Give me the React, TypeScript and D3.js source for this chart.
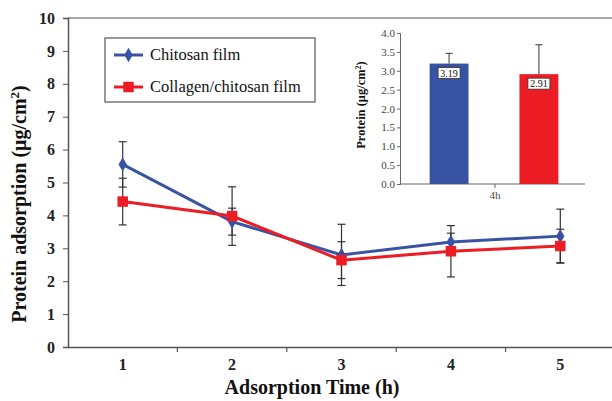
import React, { useEffect, useRef } from "react";
import * as d3 from "d3";

const times = ["1", "2", "3", "4", "5"];
const chitosan = [5.55, 3.81, 2.8, 3.19, 3.37];
const chitosanErr = [0.69, 0.41, 0.93, 0.27, 0.82];
const collagen = [4.42, 3.98, 2.64, 2.91, 3.07];
const collagenErr = [0.71, 0.89, 0.56, 0.78, 0.51];
const yTicks = [0, 1, 2, 3, 4, 5, 6, 7, 8, 9, 10];

const insetNames = ["Chitosan film", "Collagen/chitosan film"];
const insetValues = [3.19, 2.91];
const insetErr = [0.27, 0.78];
const insetTicks = [0, 0.5, 1, 1.5, 2, 2.5, 3, 3.5, 4];

const BLUE = "#3953a4";
const RED = "#ec1c24";
const FONT = "Liberation Serif, Times New Roman, serif";

function App() {
  const svgRef = useRef(null);

  useEffect(() => {
    const svg = d3.select(svgRef.current);
    svg.selectAll("*").remove();

    const left = 68;
    const top = 18;
    const bottom = 347;

    const x = d3.scaleBand().domain(times).range([left, 615]);
    const y = d3.scaleLinear().domain([0, 10]).range([bottom, top]);
    const cx = (d) => x(d) + x.bandwidth() / 2;

    // top border line
    svg.append("line")
      .attr("x1", left).attr("x2", 612)
      .attr("y1", top).attr("y2", top)
      .attr("stroke", "#555").attr("stroke-width", 1.2);

    // y axis
    const yAxis = svg.append("g")
      .attr("transform", `translate(${left},0)`)
      .call(d3.axisLeft(y).tickValues(yTicks).tickSize(5).tickPadding(8));
    yAxis.attr("font-family", FONT);
    yAxis.select(".domain").attr("stroke", "#555").attr("stroke-width", 1.5);
    yAxis.selectAll("line").attr("stroke", "#555");
    yAxis.selectAll("text")
      .attr("font-family", FONT).attr("font-size", 16).attr("font-weight", "bold")
      .attr("fill", "#222");

    // x axis
    const xAxis = svg.append("g")
      .attr("transform", `translate(0,${bottom})`)
      .call(d3.axisBottom(x).tickSize(0).tickPadding(12));
    xAxis.attr("font-family", FONT);
    xAxis.select(".domain").attr("stroke", "#555").attr("stroke-width", 1.5);
    xAxis.selectAll("text")
      .attr("font-family", FONT).attr("font-size", 16).attr("font-weight", "bold")
      .attr("fill", "#222");
    // category separators
    svg.append("g").selectAll("line")
      .data(times.slice(1))
      .enter().append("line")
      .attr("x1", (d) => x(d)).attr("x2", (d) => x(d))
      .attr("y1", bottom).attr("y2", bottom + 5)
      .attr("stroke", "#555").attr("stroke-width", 1.2);

    // axis titles
    svg.append("text")
      .attr("x", 312).attr("y", 394)
      .attr("text-anchor", "middle").attr("font-family", FONT)
      .attr("font-size", 20).attr("font-weight", "bold").attr("fill", "#111")
      .text("Adsorption Time (h)");

    const yt = svg.append("text")
      .attr("transform", "translate(26,204) rotate(-90)")
      .attr("text-anchor", "middle").attr("font-family", FONT)
      .attr("font-size", 20).attr("font-weight", "bold").attr("fill", "#111");
    yt.append("tspan").text("Protein adsorption (μg/cm");
    yt.append("tspan").attr("dy", -7).attr("font-size", 13).text("2");
    yt.append("tspan").attr("dy", 7).text(")");

    // error bars
    const series = [
      { vals: chitosan, errs: chitosanErr, color: BLUE, shape: d3.symbolDiamond, size: 60 },
      { vals: collagen, errs: collagenErr, color: RED, shape: d3.symbolSquare, size: 110 },
    ];
    series.forEach((s) => {
      const g = svg.append("g");
      times.forEach((t, i) => {
        const hi = s.vals[i] + s.errs[i];
        const lo = s.vals[i] - s.errs[i];
        g.append("line")
          .attr("x1", cx(t)).attr("x2", cx(t))
          .attr("y1", y(hi)).attr("y2", y(lo))
          .attr("stroke", "#333").attr("stroke-width", 1.2);
        [hi, lo].forEach((v) => {
          g.append("line")
            .attr("x1", cx(t) - 4).attr("x2", cx(t) + 4)
            .attr("y1", y(v)).attr("y2", y(v))
            .attr("stroke", "#333").attr("stroke-width", 1.2);
        });
      });
    });

    // lines and markers
    series.forEach((s) => {
      const line = d3.line()
        .x((d, i) => cx(times[i]))
        .y((d) => y(d));
      svg.append("path")
        .datum(s.vals)
        .attr("d", line)
        .attr("fill", "none")
        .attr("stroke", s.color)
        .attr("stroke-width", 3);
      svg.append("g").selectAll("path")
        .data(s.vals)
        .enter().append("path")
        .attr("transform", (d, i) => `translate(${cx(times[i])},${y(d)})`)
        .attr("d", d3.symbol().type(s.shape).size(s.size))
        .attr("fill", s.color);
    });

    // legend
    const lg = svg.append("g");
    lg.append("rect")
      .attr("x", 105).attr("y", 38).attr("width", 210).attr("height", 64)
      .attr("fill", "white").attr("stroke", "#555").attr("stroke-width", 1.2);
    series.forEach((s, i) => {
      const ly = 55 + i * 32;
      lg.append("line")
        .attr("x1", 114).attr("x2", 143).attr("y1", ly).attr("y2", ly)
        .attr("stroke", s.color).attr("stroke-width", 3);
      lg.append("path")
        .attr("transform", `translate(128.5,${ly})`)
        .attr("d", d3.symbol().type(s.shape).size(s.size))
        .attr("fill", s.color);
      lg.append("text")
        .attr("x", 150).attr("y", ly + 5)
        .attr("font-family", FONT)
        .attr("font-size", 16.5).attr("fill", "#111")
        .text(insetNames[i]);
    });

    // inset bar chart
    const ix = d3.scaleBand().domain(insetNames).range([400, 588]).paddingInner(0.567).paddingOuter(0.33);
    const iy = d3.scaleLinear().domain([0, 4]).range([184, 33]);
    const colors = [BLUE, RED];

    const iyAxis = svg.append("g")
      .attr("transform", "translate(400,0)")
      .call(d3.axisLeft(iy).tickValues(insetTicks).tickFormat(d3.format(".1f")).tickSize(3).tickPadding(2));
    iyAxis.attr("font-family", FONT);
    iyAxis.select(".domain").attr("stroke", "#666");
    iyAxis.selectAll("line").attr("stroke", "#666");
    iyAxis.selectAll("text")
      .attr("font-family", FONT).attr("font-size", 11).attr("fill", "#444");

    svg.append("line")
      .attr("x1", 400).attr("x2", 585).attr("y1", iy(0)).attr("y2", iy(0))
      .attr("stroke", "#666").attr("stroke-width", 1.2);
    svg.append("line")
      .attr("x1", 495).attr("x2", 495).attr("y1", iy(0)).attr("y2", iy(0) + 4)
      .attr("stroke", "#666");
    svg.append("text")
      .attr("x", 495).attr("y", 199).attr("font-family", FONT)
      .attr("text-anchor", "middle").attr("font-size", 11).attr("fill", "#444")
      .text("4h");

    const it = svg.append("text")
      .attr("transform", "translate(365,105) rotate(-90)")
      .attr("text-anchor", "middle").attr("font-family", FONT)
      .attr("font-size", 12.5).attr("font-weight", "bold").attr("fill", "#111");
    it.append("tspan").text("Protein (μg/cm");
    it.append("tspan").attr("dy", -4).attr("font-size", 8).text("2");
    it.append("tspan").attr("dy", 4).text(")");

    insetNames.forEach((n, i) => {
      const bx = ix(n);
      const bw = ix.bandwidth();
      const top1 = iy(insetValues[i]);
      svg.append("line")
        .attr("x1", bx + bw / 2).attr("x2", bx + bw / 2)
        .attr("y1", top1).attr("y2", iy(insetValues[i] + insetErr[i]))
        .attr("stroke", "#555").attr("stroke-width", 1.2);
      svg.append("line")
        .attr("x1", bx + bw / 2 - 3.5).attr("x2", bx + bw / 2 + 3.5)
        .attr("y1", iy(insetValues[i] + insetErr[i])).attr("y2", iy(insetValues[i] + insetErr[i]))
        .attr("stroke", "#555").attr("stroke-width", 1.2);
      svg.append("rect")
        .attr("x", bx).attr("y", top1)
        .attr("width", bw).attr("height", iy(0) - top1)
        .attr("fill", colors[i]);
      svg.append("rect")
        .attr("x", bx + bw / 2 - 11).attr("y", top1 + 4)
        .attr("width", 22).attr("height", 11)
        .attr("fill", "white").attr("stroke", "#333").attr("stroke-width", 0.8);
      svg.append("text")
        .attr("x", bx + bw / 2).attr("y", top1 + 13).attr("font-family", FONT)
        .attr("text-anchor", "middle").attr("font-size", 10).attr("fill", "#111")
        .text(insetValues[i].toFixed(2));
    });
  }, []);

  return (
    <svg
      ref={svgRef}
      width={612}
      height={401}
      style={{ position: "absolute", left: 0, top: 0, background: "white" }}
    />
  );
}

export default App;
